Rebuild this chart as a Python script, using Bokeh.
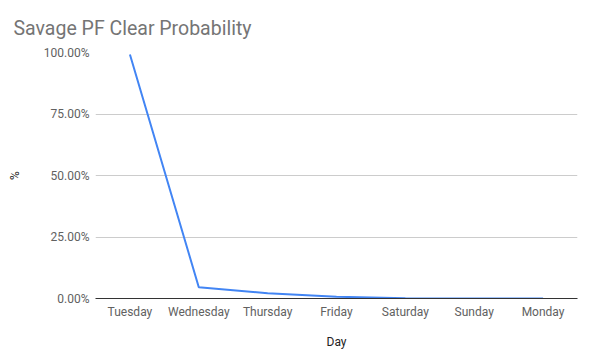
from bokeh.plotting import figure
from bokeh.models import FactorRange, Range1d, FixedTicker, NumeralTickFormatter
from bokeh.embed import file_html
from bokeh.resources import INLINE

days = ["Tuesday", "Wednesday", "Thursday", "Friday", "Saturday", "Sunday", "Monday"]
clear_prob = [0.992, 0.046, 0.021, 0.007, 0.001, 0.0004, 0.0]
y_ticks = [0.0, 0.25, 0.5, 0.75, 1.0]

W, H = 590, 357
L, R, T, B = 95, 13, 52, 59
p = figure(width=W, height=H, x_range=FactorRange(factors=days, range_padding=0),
           y_range=Range1d(0, 1.0), output_backend="svg", toolbar_location=None,
           min_border_left=L, min_border_right=R, min_border_top=T, min_border_bottom=B)

p.title.text = "Savage PF Clear Probability"
p.title.text_font = "Roboto"
p.title.text_font_size = "19.5px"
p.title.text_font_style = "normal"
p.title.text_color = "#757575"
p.title.align = "left"
p.title.vertical_align = "top"
p.title.offset = -82
p.title.standoff = 22

p.line(x=days, y=clear_prob, line_color="#4285F4", line_width=2)

p.outline_line_color = None
p.background_fill_color = "white"
p.border_fill_color = "white"

p.yaxis.ticker = FixedTicker(ticks=y_ticks)
p.yaxis.formatter = NumeralTickFormatter(format="0.00%")
p.yaxis.axis_line_color = None
p.yaxis.major_tick_line_color = None
p.yaxis.minor_tick_line_color = None
p.yaxis.major_tick_out = 0
p.yaxis.major_tick_in = 0
p.yaxis.major_label_text_font = "Roboto"
p.yaxis.major_label_text_font_size = "12px"
p.yaxis.major_label_text_color = "#616161"
p.yaxis.major_label_standoff = 6
p.yaxis.axis_label = "%"
p.yaxis.axis_label_text_font = "Roboto"
p.yaxis.axis_label_text_font_size = "12px"
p.yaxis.axis_label_text_font_style = "normal"
p.yaxis.axis_label_text_color = "#222222"
p.yaxis.axis_label_standoff = 19

p.xaxis.axis_line_color = "#333333"
p.xaxis.major_tick_line_color = None
p.xaxis.minor_tick_line_color = None
p.xaxis.major_tick_out = 0
p.xaxis.major_tick_in = 0
p.xaxis.major_label_text_font = "Roboto"
p.xaxis.major_label_text_font_size = "12px"
p.xaxis.major_label_text_color = "#616161"
p.xaxis.major_label_standoff = 6
p.xaxis.axis_label = "Day"
p.xaxis.axis_label_text_font = "Roboto"
p.xaxis.axis_label_text_font_size = "12px"
p.xaxis.axis_label_text_font_style = "normal"
p.xaxis.axis_label_text_color = "#222222"
p.xaxis.axis_label_standoff = 13

p.xgrid.grid_line_color = None
p.ygrid.grid_line_color = "#cccccc"

open("out.html", "w").write(file_html(p, INLINE))
